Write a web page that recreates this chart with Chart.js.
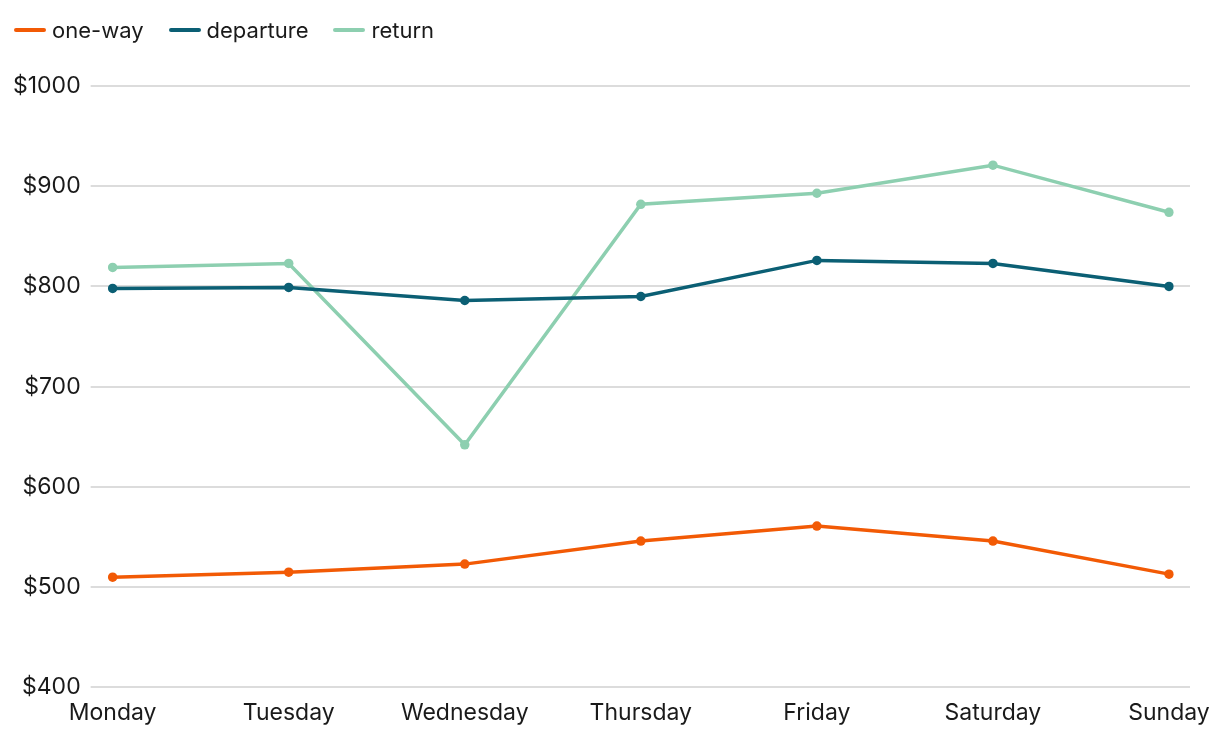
<!DOCTYPE html>
<html>
<head>
<meta charset="utf-8">
<script src="https://cdn.jsdelivr.net/npm/chart.js@4"></script>
<style>
  html, body { margin: 0; padding: 0; background: #fff; }
  #wrap { position: relative; width: 1220px; height: 738px; }
  #legend {
    position: absolute; top: 14px; left: 14px; height: 32px;
    display: flex; align-items: center; gap: 25px;
    font-family: Inter, "Noto Sans", sans-serif; font-size: 22px; color: #1a1a1a;
  }
  .item { display: flex; align-items: center; }
  .swatch { width: 32px; height: 4px; border-radius: 2px; margin-right: 6px; }
</style>
</head>
<body>
<div id="wrap">
  <div id="legend"></div>
  <canvas id="my-chart"></canvas>
</div>
<script>
// data
const days = ["Monday", "Tuesday", "Wednesday", "Thursday", "Friday", "Saturday", "Sunday"];
const oneWay = [510, 515, 523, 546, 561, 546, 513];
const departure = [798, 799, 786, 790, 826, 823, 800];
const returnFare = [819, 823, 642, 882, 893, 921, 874];

const yMin = 400;
const yMax = 1000;
const yStep = 100;

const FONT = "Inter, 'Noto Sans', sans-serif";
const textColor = "#1a1a1a";
const gridColor = "#dcdcdc";

const makeSet = (label, data, color) => ({
  label,
  data,
  borderColor: color,
  backgroundColor: color,
  borderWidth: 3.5,
  pointRadius: 4.75,
  pointHoverRadius: 4.75,
  pointBorderWidth: 0,
  tension: 0,
});

const datasets = [
  makeSet("one-way", oneWay, "#f25a05"),
  makeSet("departure", departure, "#0b5f74"),
  makeSet("return", returnFare, "#8dcfb0"),
];

// html legend
const legendDiv = document.getElementById("legend");
let template = "";
datasets.forEach((ds) => {
  template += `<div class="item"><span class="swatch" style="background:${ds.borderColor}"></span>${ds.label}</div>`;
});
legendDiv.innerHTML = template;

const config = {
  type: "line",
  data: { labels: days, datasets },
  options: {
    responsive: true,
    maintainAspectRatio: false,
    animation: false,
    layout: { padding: { top: 86, left: 3, right: 30, bottom: 7 } },
    plugins: {
      tooltip: { enabled: false },
      legend: { display: false },
    },
    scales: {
      x: {
        offset: false,
        grid: { display: false },
        border: { display: false },
        ticks: {
          color: textColor,
          font: { family: FONT, size: 23 },
          maxRotation: 0,
          autoSkip: false,
          padding: 4,
        },
      },
      y: {
        min: yMin,
        max: yMax,
        border: { display: false },
        grid: { color: gridColor, lineWidth: 2, drawTicks: true, tickLength: 22 },
        ticks: {
          stepSize: yStep,
          color: textColor,
          font: { family: FONT, size: 23 },
          padding: 10,
          callback: (v) => "$" + v,
        },
      },
      yRight: {
        position: "right",
        min: yMin,
        max: yMax,
        border: { display: false },
        grid: { color: gridColor, lineWidth: 2, drawOnChartArea: false, drawTicks: true, tickLength: 21 },
        ticks: { stepSize: yStep, display: false, padding: 0 },
      },
    },
  },
};

new Chart(document.getElementById("my-chart"), config);
</script>
</body>
</html>
